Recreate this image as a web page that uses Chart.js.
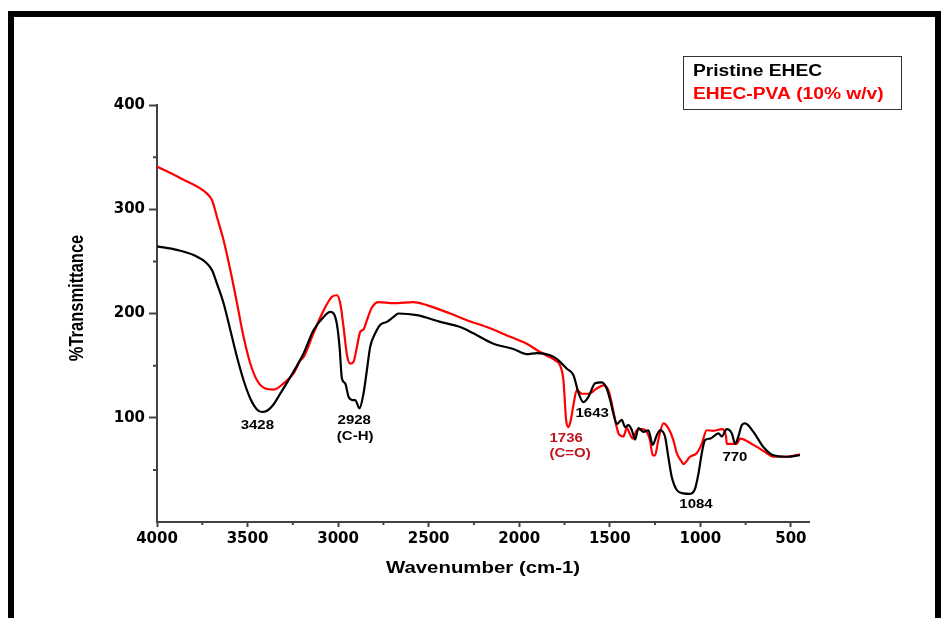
<!DOCTYPE html>
<html>
<head>
<meta charset="utf-8">
<script src="https://cdn.jsdelivr.net/npm/chart.js@4/dist/chart.umd.min.js"></script>
<style>
  html, body { margin: 0; padding: 0; background: #fff; }
  #wrap { position: relative; width: 943px; height: 618px; overflow: hidden; }
  #frame {
    position: absolute; left: 8px; top: 11px; width: 921px; height: 700px;
    border-top: 6px solid #000; border-left: 6px solid #000; border-right: 6px solid #000;
  }
  canvas { position: absolute; left: 0; top: 0; }
</style>
</head>
<body>
<div id="wrap">
  <div id="frame"></div>
  <canvas id="ftirChart" width="943" height="618"></canvas>
</div>
<script>
// FTIR spectra (wavenumber cm-1, %T)
const blackWn = [4000, 3890, 3798, 3724, 3696, 3669, 3632, 3595, 3558, 3522, 3485, 3448, 3420, 3390, 3360, 3320,
  3264, 3191, 3136, 3080, 3043, 3025, 3007, 2992, 2979, 2961, 2942, 2920, 2906, 2882, 2860, 2841, 2823, 2795,
  2768, 2731, 2694, 2667, 2565, 2436, 2326, 2253, 2142, 2032, 1958, 1903, 1829, 1790, 1737, 1701, 1673, 1646,
  1618, 1581, 1544, 1517, 1498, 1480, 1461, 1434, 1415, 1397, 1378, 1360, 1342, 1314, 1287, 1263, 1241, 1222,
  1195, 1177, 1158, 1130, 1094, 1057, 1029, 1010, 992, 974, 946, 900, 882, 854, 826, 808, 790, 771, 753, 707,
  652, 597, 523, 450];
const blackT = [264.5, 261, 256, 248, 241.5, 228.7, 209.6, 184, 158, 136, 118.5, 108, 105.5, 107, 112, 123,
  139, 161.7, 184, 196.7, 201.5, 200, 190, 168, 137.7, 133, 120, 117, 117, 109, 123, 145.7, 168, 181,
  189, 192, 196.7, 200, 198.4, 192, 187, 181, 171, 166, 161, 162, 160, 156, 147, 141, 124, 115,
  120, 133, 134, 128, 117, 104, 94, 98, 91, 93, 88, 79, 90, 86.5, 88, 74, 83, 88,
  82, 62.6, 43.4, 30.7, 27.5, 27, 32, 46.7, 66, 78.6, 80, 85, 82, 89, 85, 75, 82, 93, 94.6, 86.5,
  72, 64, 62.6, 64];

const redWn = [4000, 3862, 3724, 3696, 3669, 3632, 3595, 3558, 3522, 3485, 3448, 3402, 3356, 3301, 3246, 3209,
  3191, 3136, 3080, 3034, 3007, 2988, 2970, 2951, 2933, 2915, 2896, 2878, 2860, 2841, 2813, 2777, 2694, 2584,
  2510, 2381, 2289, 2179, 2068, 1958, 1885, 1829, 1802, 1774, 1756, 1741, 1728, 1715, 1701, 1682, 1654, 1618,
  1572, 1535, 1508, 1489, 1471, 1452, 1443, 1425, 1406, 1388, 1373, 1351, 1323, 1296, 1278, 1263, 1250, 1232,
  1204, 1177, 1149, 1130, 1103, 1094, 1057, 1020, 992, 965, 928, 882, 858, 854, 799, 781, 707, 633, 597, 523, 450];
const redT = [341, 329, 315, 308.6, 292.6, 270, 241.5, 209.6, 177.6, 152, 136, 128, 127, 133, 142.5, 155,
  158, 181, 203, 216, 217.5, 209.6, 187, 160, 152, 153.6, 168, 182.4, 184.6, 193.6, 206, 211, 210, 211,
  208, 200, 193.6, 187, 179, 171, 163, 158, 155, 150, 136, 98, 91, 98, 112, 126.5, 123, 123,
  128, 131, 126.5, 114, 98, 85, 83, 82, 90, 84, 80, 88, 89, 86.5, 78.6, 64, 64, 78.6,
  94.6, 90, 78.6, 66, 57.8, 55.6, 62.6, 66, 75, 88, 87.5, 89, 82, 75, 75, 80, 74, 66, 62.6, 62.6, 65];

const seriesNames = ["Pristine EHEC", "EHEC-PVA (10% w/v)"];
const seriesColors = ["#000000", "#ff0000"];

// peak labels: text, wavenumber, %T, colour
const peakText = ["3428", "2928", "(C-H)", "1643", "1736", "(C=O)", "1084", "770"];
const peakWn = [3446, 2911, 2906, 1597, 1741, 1719, 1024, 809];
const peakT = [93, 97.5, 81.5, 104.5, 80, 66, 17, 62];
const peakColor = ["#000", "#000", "#000", "#000", "#c0141e", "#c0141e", "#000", "#000"];

const xMajor = [4000, 3500, 3000, 2500, 2000, 1500, 1000, 500];
const yMajor = [100, 200, 300, 400];

const toPoints = (xs, ys) => xs.map((x, i) => ({ x: x, y: ys[i] }));

function drawText(ctx, text, x, y, font, color, align, rot, sx, sy) {
  ctx.save();
  ctx.translate(x, y);
  if (rot) ctx.rotate(rot);
  ctx.scale(sx || 1, sy || 1);
  ctx.font = font;
  ctx.fillStyle = color;
  ctx.textAlign = align || "center";
  ctx.textBaseline = "middle";
  ctx.fillText(text, 0, 0);
  ctx.restore();
}

const decorPlugin = {
  id: "decor",
  afterDatasetsDraw(chart) {
    const ctx = chart.ctx;
    const xs = chart.scales.x, ys = chart.scales.y;
    const area = chart.chartArea;

    // minor ticks
    ctx.save();
    ctx.strokeStyle = "#444";
    ctx.lineWidth = 2;
    ctx.beginPath();
    for (let v = 3750; v > 400; v -= 500) {
      const px = xs.getPixelForValue(v);
      ctx.moveTo(px, area.bottom);
      ctx.lineTo(px, area.bottom + 3);
    }
    for (let v = 50; v < 400; v += 100) {
      const py = ys.getPixelForValue(v);
      ctx.moveTo(area.left, py);
      ctx.lineTo(area.left - 4, py);
    }
    ctx.stroke();
    ctx.restore();

    // peak labels
    peakText.forEach((t, i) => {
      drawText(ctx, t, xs.getPixelForValue(peakWn[i]), ys.getPixelForValue(peakT[i]),
        "bold 12.5px 'Liberation Sans', Arial", peakColor[i], "center", 0, 1.2, 1);
    });
  },
  afterDraw(chart) {
    const ctx = chart.ctx;
    const area = chart.chartArea;
    // axis titles
    drawText(ctx, "Wavenumber (cm-1)", (area.left + area.right) / 2, 568,
      "bold 17px 'Liberation Sans', Arial", "#000", "center", 0, 1.2, 1);
    drawText(ctx, "%Transmittance", 77, 298,
      "bold 16.5px 'Liberation Sans', Arial", "#000", "center", -Math.PI / 2, 1, 1.25);

    // legend box
    ctx.save();
    ctx.strokeStyle = "#333";
    ctx.lineWidth = 1;
    ctx.strokeRect(683.5, 56.5, 218, 53);
    ctx.restore();
    seriesNames.forEach((n, i) => {
      drawText(ctx, n, 693, 72 + i * 23, "bold 16px 'Liberation Sans', Arial",
        seriesColors[i], "left", 0, 1.2, 1);
    });
  }
};

const tickFont = { family: "'DejaVu Sans'", size: 15, weight: "bold" };

new Chart(document.getElementById("ftirChart"), {
  type: "line",
  data: {
    datasets: [
      {
        label: seriesNames[0],
        data: toPoints(blackWn, blackT),
        borderColor: seriesColors[0],
        borderWidth: 2.2,
        pointRadius: 0,
        cubicInterpolationMode: "monotone",
        fill: false,
      },
      {
        label: seriesNames[1],
        data: toPoints(redWn, redT),
        borderColor: seriesColors[1],
        borderWidth: 2.2,
        pointRadius: 0,
        cubicInterpolationMode: "monotone",
        fill: false,
      },
    ],
  },
  options: {
    responsive: false,
    animation: false,
    layout: { padding: { top: 105, right: 134, left: 0, bottom: 0 } },
    plugins: { legend: { display: false }, tooltip: { enabled: false } },
    scales: {
      x: {
        type: "linear",
        reverse: true,
        min: 400,
        max: 4000,
        afterBuildTicks: (s) => { s.ticks = xMajor.map((v) => ({ value: v })); },
        afterFit: (s) => { s.height = 96; },
        grid: { drawOnChartArea: false, tickLength: 5, tickColor: "#444", tickWidth: 2 },
        border: { color: "#444", width: 2 },
        ticks: { color: "#000", font: tickFont, padding: 3, maxRotation: 0, callback: (v) => String(v) },
      },
      y: {
        min: 0,
        max: 400,
        afterBuildTicks: (s) => { s.ticks = yMajor.map((v) => ({ value: v })); },
        afterFit: (s) => { s.width = 157; },
        grid: { drawOnChartArea: false, tickLength: 8, tickColor: "#444", tickWidth: 2 },
        border: { color: "#444", width: 2 },
        ticks: { color: "#000", font: tickFont, padding: 4, callback: (v) => String(v) },
      },
    },
  },
  plugins: [decorPlugin],
});
</script>
</body>
</html>
